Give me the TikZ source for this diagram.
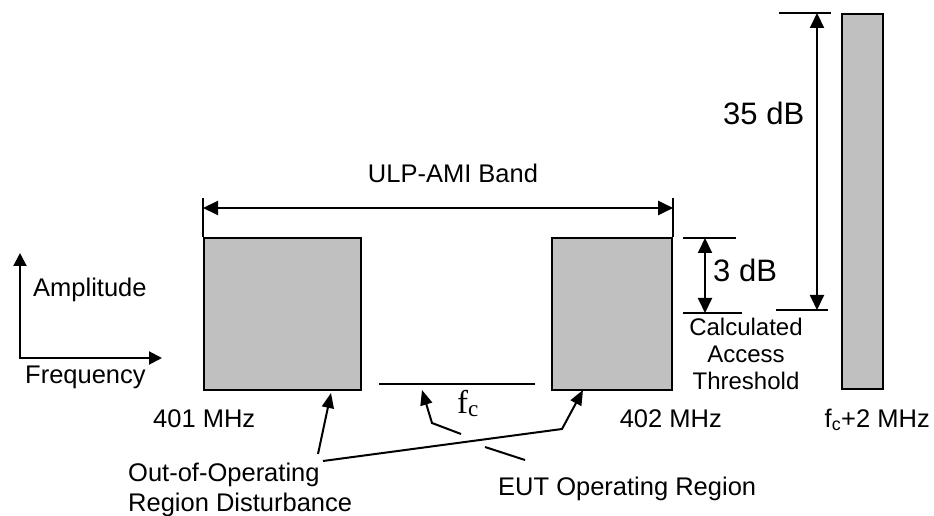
\documentclass[tikz,border=0pt]{standalone}
\usepackage{fontspec}
\setmainfont{Liberation Sans}
\newfontfamily\fcfont{Liberation Serif}
\usetikzlibrary{arrows.meta,positioning}
\definecolor{bandgray}{HTML}{C0C0C0}

\begin{document}
\begin{tikzpicture}[
  x=1bp, y=-1bp,
  lbl/.style={font=\fontsize{25.5bp}{30bp}\selectfont, inner sep=0pt},
  biglbl/.style={font=\fontsize{31bp}{36bp}\selectfont, inner sep=0pt},
  note/.style={font=\fontsize{24bp}{27bp}\selectfont, inner sep=0pt, align=center},
  bandbox/.style={draw=black, line width=2.2bp, fill=bandgray, inner sep=0pt, anchor=north west},
  level/.style={line width=2bp},
  dim/.style={line width=2bp, {Triangle[length=15bp,width=14bp]}-{Triangle[length=15bp,width=14bp]}},
  lead/.style={line width=2bp, -{Triangle[length=15bp,width=12bp]}}
]
\useasboundingbox (0,0) rectangle (934,516);

% spectrum blocks
\node[bandbox, minimum width=157bp, minimum height=152bp] (lowbox) at (203,237) {};
\node[bandbox, minimum width=120bp, minimum height=152bp] (highbox) at (551,237) {};
\node[bandbox, minimum width=41bp, minimum height=375bp] (fcbar) at (841,13) {};

% axes
\coordinate (ampend) at (20,253);
\coordinate (freqend) at (162,358);
\draw[line width=2bp, {Triangle[length=13bp,width=13bp]}-{Triangle[length=13bp,width=13bp]}] (ampend) |- (freqend);
\node[lbl, anchor=base west] (amp) at (33,297) {Amplitude};
\node[lbl, anchor=base west] (freq) at (25,383) {Frequency};

% band width
\draw[line width=1.5bp] (lowbox.north west) -- ++(0,-39) coordinate (bandL);
\draw[line width=1.5bp] (highbox.north east) -- ++(0,-39) coordinate (bandR);
\draw[dim] ([yshift=-10bp]bandL) -- ([yshift=-10bp]bandR);
\node[lbl, anchor=base] (bandlbl) at (453,183) {ULP-AMI Band};

% 3 dB
\coordinate (t3top) at (705,238);
\coordinate (t3bot) at (705,313);
\draw[level] (683,238) -- (736,238);
\draw[level] (683,313) -- (742,313);
\draw[dim] (t3top) -- (t3bot);
\node[biglbl, anchor=base west] (db3) at (713,282) {3 dB};

% 35 dB
\coordinate (t35top) at (817,13);
\coordinate (t35bot) at (817,310);
\draw[level] (779,13) -- (831,13);
\draw[level] (776,310) -- (828,310);
\draw[dim] (t35top) -- (t35bot);
\node[biglbl, anchor=base west] (db35) at (723,125) {35 dB};

\node[note, anchor=north] (thresh) at (746,318) {Calculated\\Access\\Threshold};

% operating region
\coordinate (opL) at (379,384);
\coordinate (opR) at (535,384);
\draw[line width=2bp] (opL) -- (opR);
\node[anchor=base west, inner sep=0pt, font=\fcfont\fontsize{33bp}{36bp}\selectfont] (fc) at (457,413) {f\textsubscript{c}};

% frequency labels
\node[lbl, anchor=base west] (f401) at (153,427) {401 MHz};
\node[lbl, anchor=base east] (f402) at (722,427) {402 MHz};
\node[lbl, anchor=base east] (fc2) at (930,427) {f\textsubscript{c}+2 MHz};

% callouts
\node[lbl, anchor=north west, align=left] (outlbl) at (128,463) {Out-of-Operating\\Region Disturbance};
\node[lbl, anchor=base west] (eutlbl) at (498,495) {EUT Operating Region};

\coordinate (lowtip) at (331,393);
\coordinate (hightip) at (583,390);
\coordinate (optip) at (422,390);
\draw[lead] (318,454) -- (lowtip);
\draw[lead] (323,461) -- (562,429) -- (hightip);
\draw[line width=2bp] (525,460) -- (485,447);
\draw[lead] (461,434) -- (432,423) -- (optip);

\end{tikzpicture}
\end{document}
